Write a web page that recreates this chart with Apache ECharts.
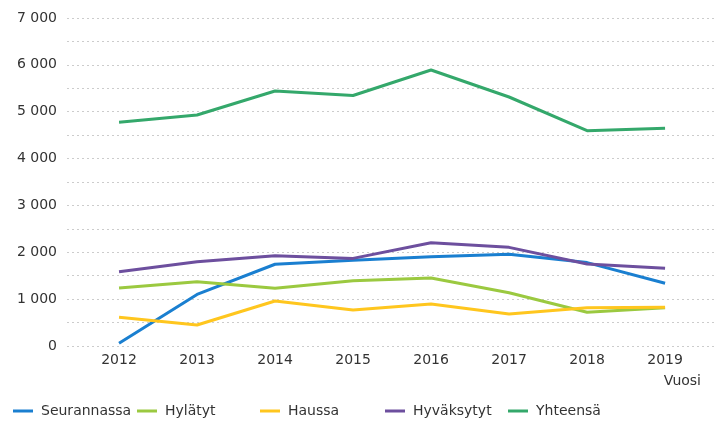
<!DOCTYPE html>
<html>
<head>
<meta charset="utf-8">
<script src="https://cdn.jsdelivr.net/npm/echarts@6/dist/echarts.min.js"></script>
<style>
  html, body { margin: 0; padding: 0; background: #fff; }
  #chart { width: 718px; height: 424px; }
</style>
</head>
<body>
<div id="chart"></div>
<script>
// data
var years = [2012, 2013, 2014, 2015, 2016, 2017, 2018, 2019];
var seurannassa = [60, 1100, 1745, 1830, 1905, 1957, 1780, 1340];
var hylatyt = [1238, 1373, 1231, 1394, 1451, 1138, 719, 817];
var haussa = [612, 448, 960, 768, 896, 683, 817, 825];
var hyvaksytyt = [1585, 1800, 1927, 1870, 2205, 2105, 1750, 1658];
var yhteensa = [4774, 4930, 5442, 5345, 5890, 5314, 4595, 4645];
var yTicks = [0, 1000, 2000, 3000, 4000, 5000, 6000, 7000];

var names = ['Seurannassa', 'Hylätyt', 'Haussa', 'Hyväksytyt', 'Yhteensä'];
var colors = ['#1a7fd0', '#9bc940', '#ffc61e', '#6d4f9e', '#34a86b'];
var values = [seurannassa, hylatyt, haussa, hyvaksytyt, yhteensa];

var font = 'DejaVu Sans';
var textColor = '#333333';
var chart = echarts.init(document.getElementById('chart'));

function pairs(arr) {
    return years.map(function (y, i) { return [y, arr[i]]; });
}

// one legend per item so the spacing matches the original
var legendLeft = [13, 137, 260, 385, 508];
var legends = names.map(function (n, i) {
    return {
        data: [n],
        left: legendLeft[i],
        top: 404,
        padding: 0,
        icon: 'rect',
        itemWidth: 20,
        itemHeight: 3,
        itemGap: 0,
        textStyle: { fontFamily: font, fontSize: 14, color: textColor, padding: [0, 0, 0, 3] }
    };
});

var option = {
    animation: false,
    color: colors,
    grid: { left: 67, right: 3, top: 18, bottom: 78 },
    legend: legends,
    xAxis: {
        type: 'value',
        min: 2011.333,
        max: 2019.64,
        axisLine: { show: false },
        axisTick: { show: false },
        splitLine: { show: false },
        axisLabel: {
            customValues: years,
            fontFamily: font,
            fontSize: 14,
            color: textColor,
            margin: 7,
            formatter: function (v) { return String(Math.round(v)); }
        }
    },
    yAxis: {
        type: 'value',
        min: 0,
        max: 7000,
        interval: 500,
        axisLine: { show: false },
        axisTick: { show: false },
        axisLabel: {
            customValues: yTicks,
            fontFamily: font,
            fontSize: 14,
            color: textColor,
            margin: 10,
            formatter: function (v) {
                return String(v).replace(/\B(?=(\d{3})+(?!\d))/g, ' ');
            }
        },
        splitLine: {
            lineStyle: { color: '#cccccc', width: 1, type: [2, 3] }
        }
    },
    graphic: [{
        type: 'text',
        right: 17,
        top: 374,
        style: { text: 'Vuosi', font: '14px "DejaVu Sans"', fill: textColor }
    }],
    series: names.map(function (n, i) {
        return {
            name: n,
            type: 'line',
            data: pairs(values[i]),
            symbol: 'none',
            lineStyle: { width: 3 }
        };
    })
};

chart.setOption(option);
</script>
</body>
</html>
